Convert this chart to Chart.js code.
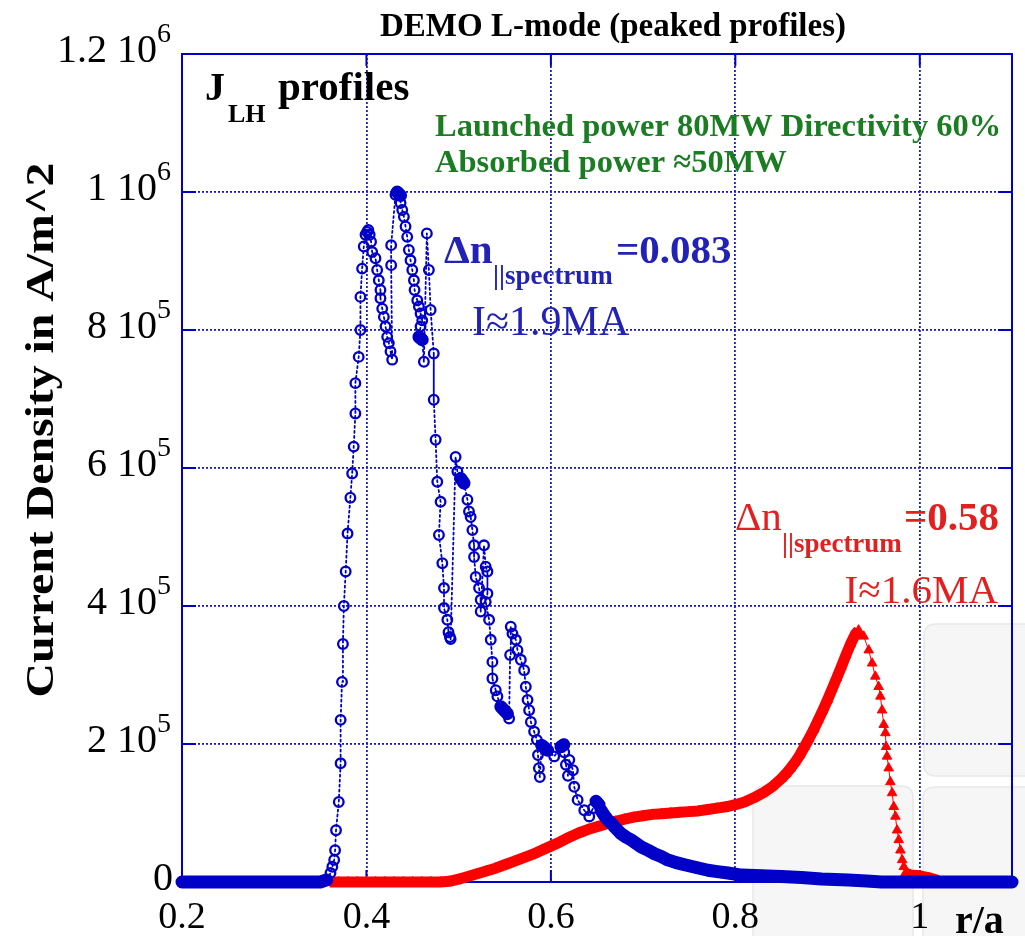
<!DOCTYPE html>
<html>
<head>
<meta charset="utf-8">
<title>DEMO L-mode J_LH profiles</title>
<script src="https://cdn.jsdelivr.net/npm/chart.js@4.4.1/dist/chart.umd.min.js"></script>
<style>
  html, body { margin: 0; padding: 0; background: #fff; }
  canvas { display: block; }
</style>
</head>
<body>
<canvas id="jlh" width="1025" height="936"></canvas>
<script>
// ---- data: r/a and LH current density (units of 10^5 A/m^2) ----

// narrow spectrum, dn = 0.083
const rBlue = [
  0.20, 0.21, 0.22, 0.23, 0.24, 0.25, 0.26, 0.27, 0.28, 0.29, 0.30, 0.31, 0.32, 0.33, 0.34, 0.35, 0.357,
  0.361, 0.363, 0.365, 0.366, 0.367, 0.370, 0.372, 0.372, 0.3735, 0.3745, 0.3755, 0.3775, 0.3795, 0.3826,
  0.3845, 0.3862, 0.388, 0.388, 0.3916, 0.3935, 0.3935, 0.3953, 0.3971, 0.399, 0.4008, 0.402, 0.4035, 0.405,
  0.4062, 0.4098, 0.4116, 0.4134, 0.4152, 0.4152, 0.4171, 0.4189, 0.4207, 0.4225, 0.4243, 0.4261, 0.4279,
  0.4268, 0.4268, 0.4315, 0.4333, 0.437,
  0.437, 0.4388, 0.4406, 0.4424, 0.4442, 0.446, 0.4478, 0.4497, 0.4515, 0.4522, 0.4551, 0.4569, 0.4587, 0.4605, 0.4587, 0.4569, 0.4605, 0.4623,
  0.4655, 0.4677, 0.4696, 0.473, 0.473, 0.475, 0.4768, 0.4804, 0.4786, 0.4823, 0.4841, 0.4841, 0.4877, 0.489, 0.4905, 0.4913,
  0.4967, 0.4986, 0.5022, 0.5058, 0.5095, 0.5112, 0.513, 0.5149, 0.5167, 0.5167, 0.5185, 0.5221, 0.5239, 0.5239,
  0.5275, 0.5293, 0.5312, 0.5312, 0.5293, 0.533, 0.5348, 0.5366, 0.5366, 0.5402, 0.542, 0.5457, 0.5493, 0.5529, 0.5547,
  0.5558, 0.5565, 0.5583, 0.562, 0.5638, 0.5674, 0.571, 0.5728, 0.5747, 0.5764, 0.5783, 0.5818,
  0.5848, 0.586, 0.587, 0.588, 0.590, 0.5964, 0.6036, 0.6109, 0.614, 0.6145, 0.6163, 0.6185, 0.620, 0.6239,
  0.6253, 0.629, 0.6362, 0.6416, 0.6457, 0.6489, 0.6522, 0.6543, 0.6576, 0.6616, 0.6652, 0.6688, 0.6725, 0.6761,
  0.6815, 0.687, 0.6924, 0.6978, 0.7054, 0.7123, 0.7196, 0.7268, 0.7359, 0.745, 0.7576, 0.7703, 0.7804, 0.792,
  0.8065, 0.8283, 0.85, 0.8717, 0.8935, 0.9225, 0.9424, 0.9587,
  0.97, 0.98, 0.99, 1.00, 1.01, 1.02, 1.03, 1.04, 1.05, 1.06, 1.07, 1.08, 1.09, 1.10
];
const jBlue = [
  0, 0, 0, 0, 0, 0, 0, 0, 0, 0, 0, 0, 0, 0, 0, 0, 0.03,
  0.13, 0.22, 0.32, 0.46, 0.75, 1.16, 1.72, 2.35, 2.90, 3.45, 4.00, 4.50, 5.05, 5.57,
  5.92, 6.31, 6.79, 7.23, 7.61, 8.00, 8.48, 8.89, 9.21, 9.38, 9.42, 9.45, 9.38, 9.28,
  9.13, 9.04, 8.87, 8.72, 8.58, 8.46, 8.31, 8.19, 8.05, 7.90, 7.81, 7.69, 7.57,
  8.94, 9.23, 9.96, 10.0, 9.95,
  9.84, 9.74, 9.64, 9.50, 9.35, 9.16, 9.01, 8.87, 8.72, 8.58, 8.43, 8.34, 8.24, 8.14, 8.05, 7.90, 7.86, 7.54,
  9.40, 8.87, 8.29, 7.66, 6.99, 6.41, 5.80, 5.51, 5.03, 4.62, 4.26, 3.97, 3.80, 3.62, 3.55, 3.52,
  6.16, 5.95, 5.85, 5.78, 5.54, 5.37, 5.29, 5.10, 4.88, 4.71, 4.42, 4.26, 4.09, 3.92,
  4.88, 4.57, 4.50, 4.18, 4.06, 3.80, 3.51, 3.19, 2.95, 2.78, 2.69, 2.54, 2.49, 2.44, 2.37,
  3.29, 3.70, 3.60, 3.51, 3.36, 3.22, 3.07, 2.83, 2.64, 2.49, 2.32, 2.18,
  2.06, 1.84, 1.65, 1.52, 1.98, 1.91, 1.82, 1.96, 1.99, 1.88, 1.70, 1.54, 1.77, 1.62,
  1.38, 1.19, 1.04, 0.95, 1.07, 1.17, 1.12, 1.04, 0.97, 0.90, 0.86, 0.80, 0.75, 0.70,
  0.65, 0.61, 0.56, 0.51, 0.46, 0.41, 0.37, 0.32, 0.28, 0.25, 0.21, 0.17, 0.15, 0.13,
  0.10, 0.09, 0.08, 0.065, 0.045, 0.03, 0.015, 0,
  0, 0, 0, 0, 0, 0, 0, 0, 0, 0, 0, 0, 0, 0
];

// broad spectrum, dn = 0.58
const rRed = [
  0.36, 0.37, 0.38, 0.39, 0.40, 0.41, 0.42, 0.43, 0.44, 0.45, 0.46, 0.47, 0.48,
  0.49, 0.50, 0.51, 0.52, 0.53, 0.54, 0.55, 0.56, 0.57, 0.58, 0.59, 0.60, 0.61, 0.62, 0.63, 0.64, 0.65,
  0.66, 0.67, 0.68, 0.69, 0.70, 0.71, 0.72, 0.73, 0.74, 0.75, 0.76, 0.77, 0.78, 0.79, 0.80, 0.81, 0.82,
  0.83, 0.84, 0.85,
  0.855, 0.86, 0.865, 0.87, 0.875, 0.88, 0.885, 0.89, 0.895, 0.90, 0.905, 0.91, 0.915, 0.92, 0.925, 0.93, 0.9337,
  0.9392, 0.9446, 0.9483, 0.9518, 0.9554, 0.9573, 0.9591, 0.9609, 0.9627, 0.9635, 0.9645,
  0.9663, 0.9681, 0.970, 0.9718, 0.9736, 0.9754, 0.9772, 0.979, 0.9809, 0.9827, 0.9845,
  0.99, 1.00, 1.01, 1.02
];
const jRed = [
  0, 0, 0, 0, 0, 0, 0, 0, 0, 0, 0, 0, 0,
  0.01, 0.04, 0.08, 0.12, 0.16, 0.20, 0.25, 0.30, 0.35, 0.40, 0.46, 0.52, 0.58, 0.65, 0.71, 0.76, 0.80,
  0.84, 0.88, 0.91, 0.94, 0.96, 0.98, 0.99, 1.00, 1.01, 1.02, 1.03, 1.05, 1.07, 1.09, 1.12, 1.16, 1.22,
  1.29, 1.38, 1.50,
  1.57, 1.65, 1.74, 1.84, 1.96, 2.08, 2.21, 2.35, 2.49, 2.64, 2.80, 2.96, 3.12, 3.29, 3.45, 3.59, 3.65,
  3.56, 3.36, 3.17, 2.98, 2.83, 2.69, 2.49, 2.28, 2.16, 1.96, 1.82,
  1.65, 1.45, 1.29, 1.09, 0.95, 0.75, 0.61, 0.46, 0.32, 0.22, 0.13,
  0.10, 0.09, 0.06, 0.02
];

// axis ticks
const xTickValues = [0.2, 0.4, 0.6, 0.8, 1.0];
const xTickLabels = ['0.2', '0.4', '0.6', '0.8', '1'];
const yTickValues = [0, 2e5, 4e5, 6e5, 8e5, 1e6, 1.2e6];
const yTickBase = ['0', '2 10', '4 10', '6 10', '8 10', '1 10', '1.2 10'];
const yTickPower = ['', '5', '5', '5', '5', '6', '6'];

const BLUE = '#0000c8';
const RED = '#ff0000';
const SERIF = '"Liberation Serif", "Times New Roman", serif';

const toPoints = (r, j) => r.map((v, i) => ({ x: v, y: j[i] * 1e5 }));

// helper: draw text at a point with a given font and colour
function put(ctx, txt, x, y, font, color, align) {
  ctx.font = font;
  ctx.fillStyle = color;
  ctx.textAlign = align || 'left';
  ctx.textBaseline = 'alphabetic';
  ctx.fillText(txt, x, y);
}

// frame, labels and annotations drawn around the plot
const decor = {
  id: 'decor',
  beforeDraw(chart) {
    const ctx = chart.ctx;
    ctx.save();
    ctx.fillStyle = '#fff';
    ctx.fillRect(0, 0, chart.width, chart.height);
    // faint slide panels behind the lower right corner
    const panels = [[924, 624, 140, 152], [753, 786, 160, 180], [923, 787, 140, 180]];
    ctx.fillStyle = '#f6f6f6';
    ctx.strokeStyle = '#e8e8e8';
    ctx.lineWidth = 1.5;
    panels.forEach(([px, py, w, h]) => {
      const r = 12;
      ctx.beginPath();
      ctx.moveTo(px + r, py);
      ctx.lineTo(px + w - r, py);
      ctx.quadraticCurveTo(px + w, py, px + w, py + r);
      ctx.lineTo(px + w, py + h - r);
      ctx.quadraticCurveTo(px + w, py + h, px + w - r, py + h);
      ctx.lineTo(px + r, py + h);
      ctx.quadraticCurveTo(px, py + h, px, py + h - r);
      ctx.lineTo(px, py + r);
      ctx.quadraticCurveTo(px, py, px + r, py);
      ctx.fill();
      ctx.stroke();
    });
    ctx.restore();
  },
  beforeDatasetsDraw(chart) {
    const { ctx, chartArea: a, scales: { x, y } } = chart;
    ctx.save();
    ctx.strokeStyle = BLUE;
    ctx.lineWidth = 2;
    ctx.strokeRect(a.left, a.top, a.right - a.left, a.bottom - a.top);
    // short inward tick marks on all four sides
    ctx.beginPath();
    yTickValues.forEach(v => {
      const py = y.getPixelForValue(v);
      ctx.moveTo(a.left, py); ctx.lineTo(a.left + 14, py);
      ctx.moveTo(a.right, py); ctx.lineTo(a.right - 14, py);
    });
    xTickValues.forEach(v => {
      const px = x.getPixelForValue(v);
      ctx.moveTo(px, a.bottom); ctx.lineTo(px, a.bottom - 12);
      ctx.moveTo(px, a.top); ctx.lineTo(px, a.top + 12);
    });
    ctx.stroke();
    ctx.restore();
  },
  afterDraw(chart) {
    const { ctx, scales: { x, y } } = chart;
    ctx.save();

    // tick labels
    xTickValues.forEach((v, i) => {
      put(ctx, xTickLabels[i], x.getPixelForValue(v), 928, '38px ' + SERIF, '#000', 'center');
    });
    yTickValues.forEach((v, i) => {
      const py = y.getPixelForValue(v);
      if (yTickPower[i]) {
        put(ctx, yTickBase[i], 157, py + 8, '40px ' + SERIF, '#000', 'right');
        put(ctx, yTickPower[i], 157, py - 12, '28px ' + SERIF, '#000', 'left');
      } else {
        put(ctx, yTickBase[i], 173, py + 8, '40px ' + SERIF, '#000', 'right');
      }
    });

    // axis titles
    put(ctx, 'r/a', 955, 933, 'bold 40px ' + SERIF, '#000', 'left');
    const yTitle = 'Current Density in A/m^2';
    ctx.save();
    ctx.translate(53, 430);
    ctx.rotate(-Math.PI / 2);
    ctx.font = 'bold 40px ' + SERIF;
    const w = ctx.measureText(yTitle).width;
    ctx.scale(535 / w, 1);
    put(ctx, yTitle, 0, 0, 'bold 40px ' + SERIF, '#000', 'center');
    ctx.restore();

    // title
    put(ctx, 'DEMO L-mode (peaked profiles)', 613, 36, 'bold 33px ' + SERIF, '#000', 'center');

    // panel label
    put(ctx, 'J', 205, 100, 'bold 40px ' + SERIF, '#000', 'left');
    put(ctx, 'LH', 228, 122, 'bold 26px ' + SERIF, '#000', 'left');
    put(ctx, 'profiles', 278, 100, 'bold 41px ' + SERIF, '#000', 'left');

    // power info
    const GREEN = '#1b7d22';
    put(ctx, 'Launched power 80MW Directivity 60%', 435, 136, 'bold 32.5px ' + SERIF, GREEN, 'left');
    put(ctx, 'Absorbed power \u224850MW', 435, 172, 'bold 32.5px ' + SERIF, GREEN, 'left');

    // narrow spectrum annotation
    const TB = '#2222b8';
    put(ctx, '\u0394n', 444, 263, 'bold 41px ' + SERIF, TB, 'left');
    put(ctx, '||spectrum', 493, 284, 'bold 27px ' + SERIF, TB, 'left');
    put(ctx, '=0.083', 616, 263, 'bold 41px ' + SERIF, TB, 'left');
    put(ctx, 'I\u22481.9MA', 472, 335, '42px ' + SERIF, TB, 'left');

    // broad spectrum annotation
    const TR = '#e32020';
    put(ctx, '\u0394n', 735, 530, '41px ' + SERIF, TR, 'left');
    put(ctx, '||spectrum', 782, 552, 'bold 27px ' + SERIF, TR, 'left');
    put(ctx, '=0.58', 904, 530, 'bold 41px ' + SERIF, TR, 'left');
    put(ctx, 'I\u22481.6MA', 998, 603, '41px ' + SERIF, TR, 'right');

    ctx.restore();
  }
};

// thick band where the profile runs smoothly along r/a, thin dotted link elsewhere
const dy = c => c.p1.y - c.p0.y;
const dx = c => c.p1.x - c.p0.x;
const smooth = c => dx(c) >= 2.8 && Math.abs(dy(c)) <= 6;

new Chart(document.getElementById('jlh'), {
  type: 'line',
  data: {
    datasets: [
      {
        label: 'dn = 0.083',
        data: toPoints(rBlue, jBlue),
        borderColor: BLUE,
        backgroundColor: 'rgba(0,0,0,0)',
        pointStyle: 'circle',
        pointRadius: 4.8,
        pointBorderWidth: 2.3,
        pointBorderColor: BLUE,
        pointBackgroundColor: 'rgba(0,0,0,0)',
        tension: 0,
        borderJoinStyle: 'round',
        borderCapStyle: 'round',
        clip: false,
        order: 0,
        segment: {
          borderWidth: c => smooth(c) ? 13 : 1.8,
          borderDash: c => smooth(c) ? [] : [2, 3]
        }
      },
      {
        label: 'dn = 0.58',
        data: toPoints(rRed, jRed),
        borderColor: RED,
        backgroundColor: RED,
        pointStyle: 'triangle',
        pointRadius: 5.5,
        pointBorderWidth: 1,
        pointBorderColor: RED,
        pointBackgroundColor: RED,
        tension: 0,
        borderJoinStyle: 'round',
        clip: false,
        order: 1,
        segment: {
          borderWidth: c => dy(c) > 4 ? 1 : 11
        }
      }
    ]
  },
  options: {
    responsive: false,
    animation: false,
    events: [],
    layout: { padding: { left: 182, right: 13, top: 54, bottom: 54 } },
    plugins: {
      legend: { display: false },
      tooltip: { enabled: false }
    },
    scales: {
      x: {
        type: 'linear',
        min: 0.2,
        max: 1.1,
        ticks: { display: false, stepSize: 0.2 },
        grid: { color: '#1a1ac4', lineWidth: 1.8, drawTicks: false },
        border: { display: false, dash: [2, 2] }
      },
      y: {
        min: 0,
        max: 1.2e6,
        ticks: { display: false, stepSize: 2e5 },
        grid: { color: '#1a1ac4', lineWidth: 1.8, drawTicks: false },
        border: { display: false, dash: [2, 2] }
      }
    }
  },
  plugins: [decor]
});
</script>
</body>
</html>
